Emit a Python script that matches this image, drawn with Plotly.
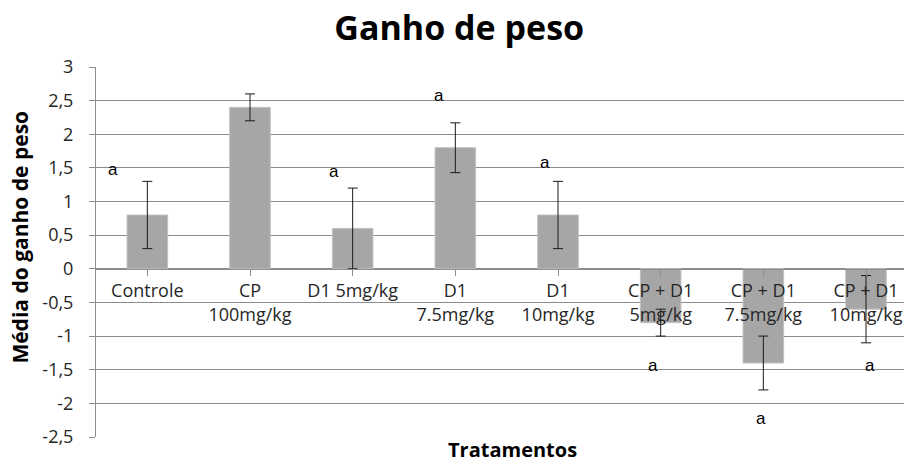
import plotly.graph_objects as go

# Treatments (category labels) and their mean weight gain with error
categorias = ["Controle", "CP<br>100mg/kg", "D1 5mg/kg", "D1<br>7.5mg/kg",
              "D1<br>10mg/kg", "CP + D1<br>5mg/kg", "CP + D1<br>7.5mg/kg",
              "CP + D1<br>10mg/kg"]
medias = [0.8, 2.4, 0.6, 1.8, 0.8, -0.8, -1.4, -0.6]
erros = [0.5, 0.2, 0.6, 0.37, 0.5, 0.2, 0.4, 0.5]

# Significance letters: x offset within category and y position
letras = ["a", "a", "a", "a", "a", "a", "a", "a"]
letras_x = [-0.33, 0.74, 1.82, 2.84, 3.87, 4.93, 5.98, 7.04]
letras_y = [1.47, 3.04, 1.44, 2.57, 1.58, -1.43, -2.22, -1.44]

y_ticks = [-2.5, -2, -1.5, -1, -0.5, 0, 0.5, 1, 1.5, 2, 2.5, 3]
y_ticktext = ["-2,5", "-2", "-1,5", "-1", "-0,5", "0", "0,5", "1", "1,5", "2", "2,5", "3"]

idx = list(range(len(categorias)))

fig = go.Figure()
fig.add_trace(go.Bar(
    x=idx, y=medias, width=0.395,
    marker=dict(color="#a6a6a6", line=dict(color="#c0c0c0", width=1)),
    error_y=dict(type="data", array=erros, color="#1a1a1a", thickness=1, width=5),
    showlegend=False,
))

for lx, ly, t in zip(letras_x, letras_y, letras):
    fig.add_annotation(x=lx, y=ly, text=t, showarrow=False, xref="x", yref="y",
                       font=dict(family="Liberation Sans", size=17, color="black"))

ymin, ymax = -2.5, 3
fig.update_layout(
    width=904, height=463,
    margin=dict(l=96, r=0, t=67, b=26),
    plot_bgcolor="white", paper_bgcolor="white",
    separators=",.",
    title=dict(text="<b>Ganho de peso</b>", x=0.508, xanchor="center", y=0.94, yanchor="middle",
               font=dict(family="Open Sans", size=34, color="black")),
    xaxis=dict(
        tickmode="array", tickvals=idx, ticktext=categorias,
        range=[-0.5, 7.37], anchor="free",
        position=(0 - ymin) / (ymax - ymin),
        showline=True, linecolor="#8c8c8c", linewidth=1,
        ticks="outside", tickson="boundaries", ticklen=6, tickcolor="#8c8c8c",
        showgrid=False,
        tickfont=dict(family="Open Sans", size=18, color="#262626"),
    ),
    yaxis=dict(
        range=[ymin, ymax], tickmode="array", tickvals=y_ticks, ticktext=y_ticktext,
        showgrid=True, gridcolor="#8c8c8c", gridwidth=1,
        zeroline=False, showline=True, linecolor="#8c8c8c", linewidth=1,
        ticks="outside", ticklen=6, tickcolor="#8c8c8c", ticklabelstandoff=12,
        tickfont=dict(family="Open Sans", size=18, color="#262626"),
    ),
)

# Axis titles
fig.add_annotation(text="<b>Média do ganho de peso</b>", x=-0.094, xref="paper", xanchor="center",
                   y=0.539, yref="paper", yanchor="middle", textangle=-90, showarrow=False,
                   font=dict(family="Open Sans", size=21, color="black"))
fig.add_annotation(text="<b>Tratamentos</b>", x=0.515, xref="paper", xanchor="center",
                   y=-0.034, yref="paper", yanchor="middle", showarrow=False,
                   font=dict(family="Open Sans", size=20, color="black"))

fig.write_html("out.html")
